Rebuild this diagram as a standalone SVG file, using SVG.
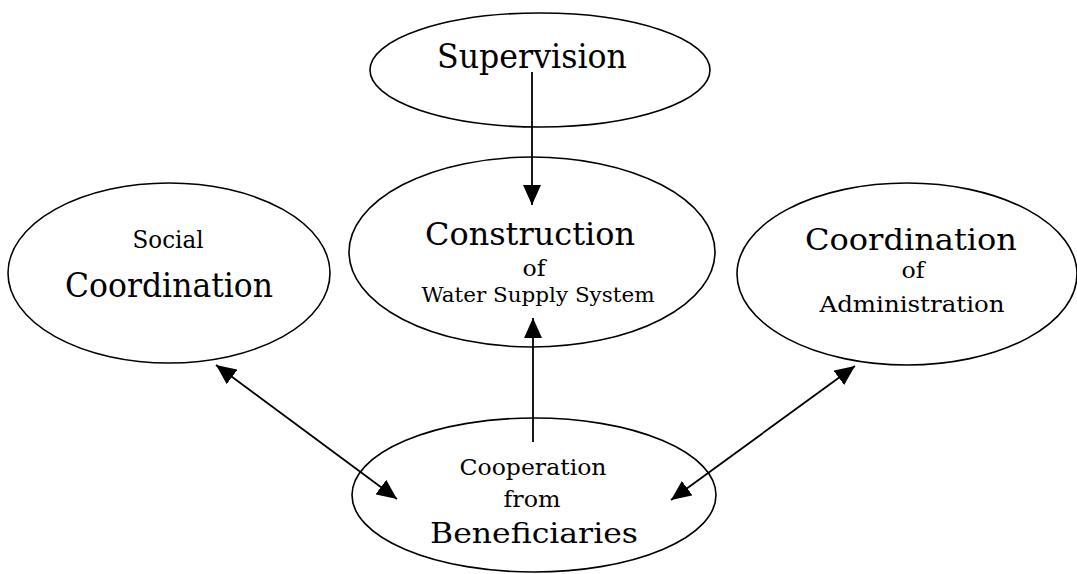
<svg xmlns="http://www.w3.org/2000/svg" width="1077" height="574" viewBox="0 0 1077 574">
<style>
.node ellipse{fill:none;stroke:#000;stroke-width:1.6}
text{font-family:"DejaVu Serif","Liberation Serif",serif;fill:#000;text-anchor:middle}
.conn line{stroke:#000;stroke-width:1.8}
</style>
<defs>
<marker id="ah" viewBox="0 0 20 18" refX="20" refY="9" markerWidth="20" markerHeight="18" markerUnits="userSpaceOnUse" orient="auto-start-reverse">
<path d="M0,0 L20,9 L0,18 z" fill="#000"/>
</marker>
</defs>
<rect width="1077" height="574" fill="#fff"/>
<g id="supervision" class="node">
<ellipse cx="540" cy="70" rx="170" ry="57"/>
<text x="532" y="68" font-size="34" textLength="190" lengthAdjust="spacingAndGlyphs">Supervision</text>
</g>
<g id="construction" class="node">
<ellipse cx="532" cy="252" rx="183" ry="95"/>
<text x="530" y="245" font-size="32" textLength="210" lengthAdjust="spacingAndGlyphs">Construction</text>
<text x="534" y="276" font-size="22" textLength="23" lengthAdjust="spacingAndGlyphs">of</text>
<text x="538" y="302" font-size="20" textLength="233" lengthAdjust="spacingAndGlyphs">Water Supply System</text>
</g>
<g id="social" class="node">
<ellipse cx="169" cy="273" rx="161" ry="90"/>
<text x="168" y="248" font-size="25" textLength="71" lengthAdjust="spacingAndGlyphs">Social</text>
<text x="169" y="297" font-size="34" textLength="208" lengthAdjust="spacingAndGlyphs">Coordination</text>
</g>
<g id="administration" class="node">
<ellipse cx="907" cy="274" rx="170" ry="91"/>
<text x="911" y="250" font-size="30" textLength="212" lengthAdjust="spacingAndGlyphs">Coordination</text>
<text x="913" y="278" font-size="22" textLength="23" lengthAdjust="spacingAndGlyphs">of</text>
<text x="912" y="312" font-size="23" textLength="185" lengthAdjust="spacingAndGlyphs">Administration</text>
</g>
<g id="beneficiaries" class="node">
<ellipse cx="534" cy="495" rx="182" ry="77"/>
<text x="533" y="475" font-size="23" textLength="147" lengthAdjust="spacingAndGlyphs">Cooperation</text>
<text x="532" y="507" font-size="23" textLength="57" lengthAdjust="spacingAndGlyphs">from</text>
<text x="534" y="543" font-size="28" textLength="208" lengthAdjust="spacingAndGlyphs">Beneficiaries</text>
</g>
<g id="connectors" class="conn">
<line x1="532" y1="72" x2="532" y2="205" marker-end="url(#ah)"/>
<line x1="533" y1="442" x2="533" y2="318" marker-end="url(#ah)"/>
<line x1="397" y1="499" x2="216" y2="365" marker-start="url(#ah)" marker-end="url(#ah)"/>
<line x1="671" y1="500" x2="855" y2="366" marker-start="url(#ah)" marker-end="url(#ah)"/>
</g>
</svg>
